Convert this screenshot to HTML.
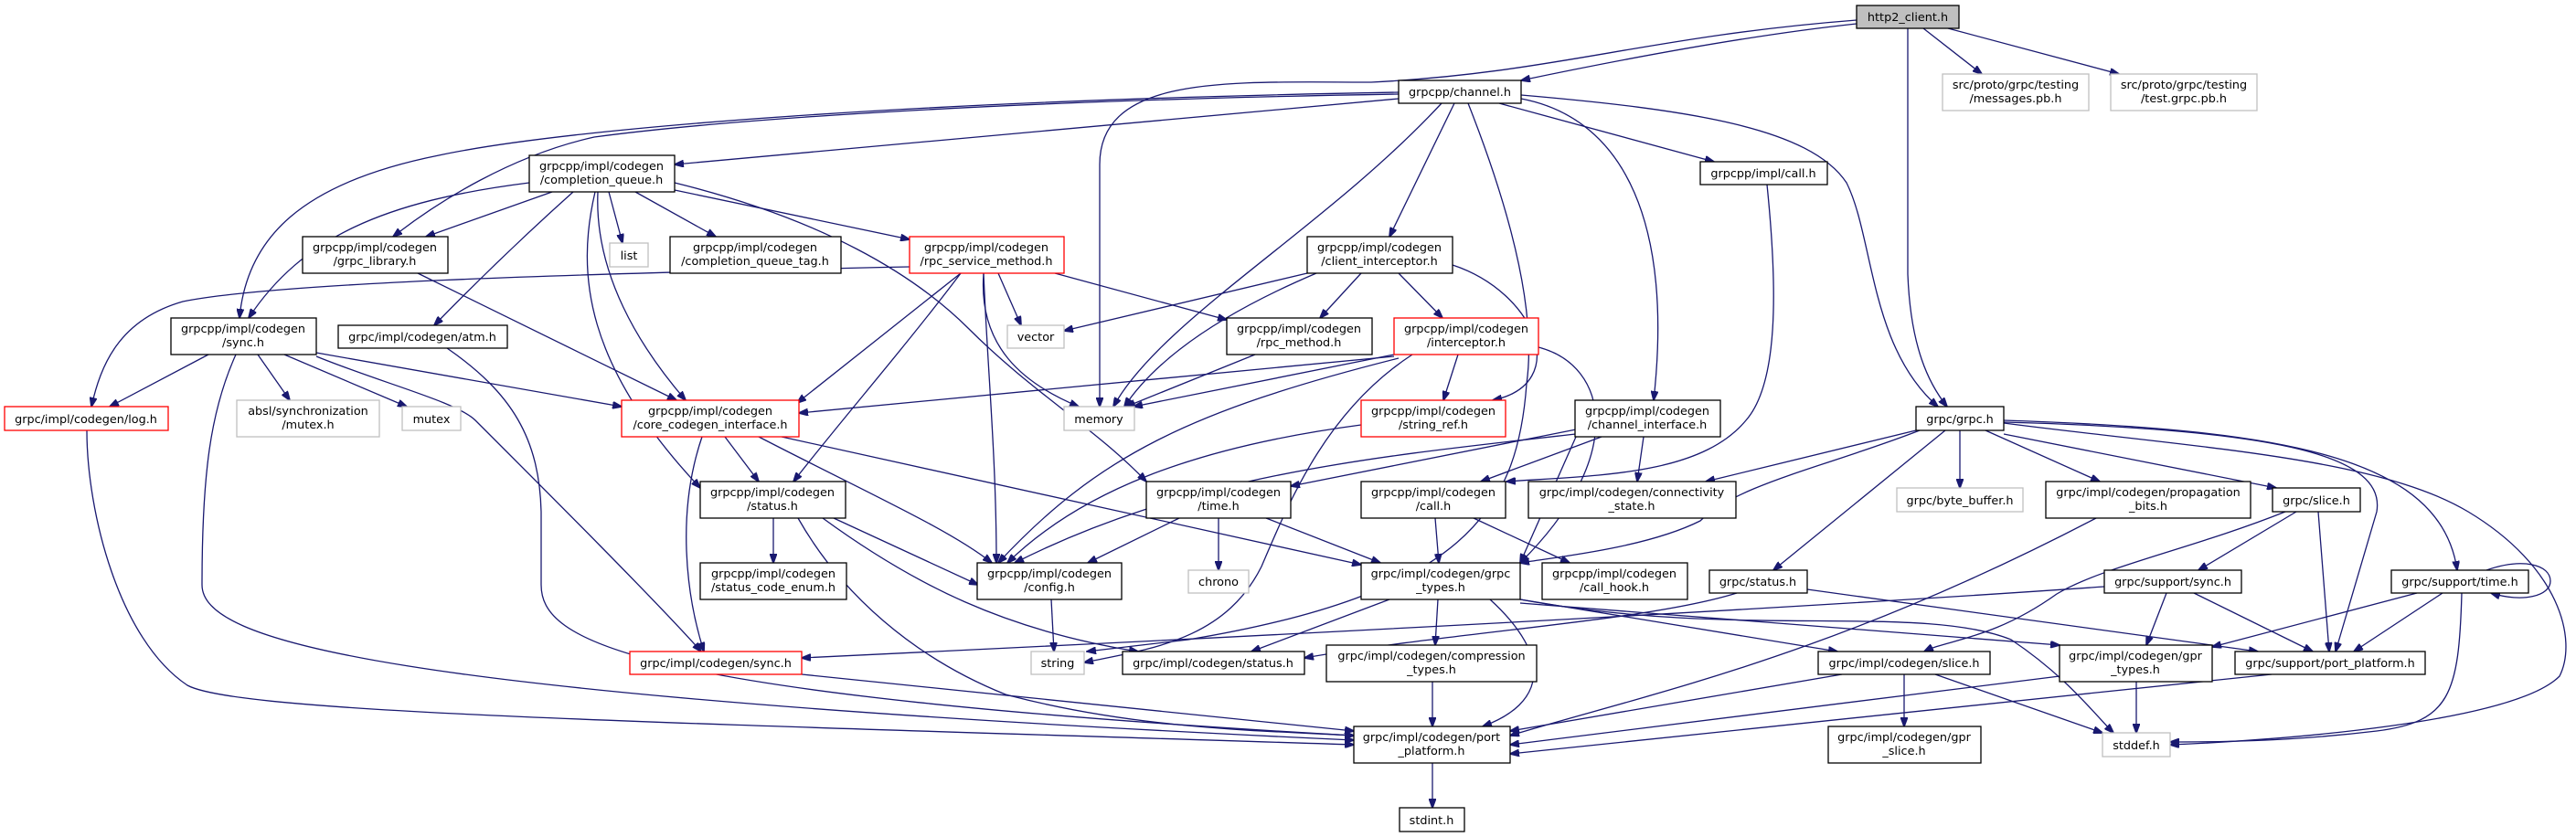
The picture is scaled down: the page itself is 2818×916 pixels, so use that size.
<!DOCTYPE html>
<html><head><meta charset="utf-8"><style>
html,body{margin:0;padding:0;background:#fff}
svg{display:block}
text{font-family:"DejaVu Sans","Liberation Sans",sans-serif;font-size:12.8px;fill:#000;text-anchor:middle}
.e{fill:none;stroke:#191970;stroke-width:1.3}
.n{fill:#fff;stroke:#000;stroke-width:1.3}
.r{fill:#fff;stroke:#ff0000;stroke-width:1.3}
.g{fill:#fff;stroke:#bfbfbf;stroke-width:1.3}
</style></head><body>
<svg width="2818" height="916" viewBox="0 0 2818 916" xmlns="http://www.w3.org/2000/svg">
<defs><marker id="a" markerWidth="11" markerHeight="8" refX="10" refY="4" orient="auto" markerUnits="userSpaceOnUse"><path d="M0,0 L11,4 L0,8 z" fill="#191970" stroke="#191970"/></marker></defs>
<g class="e" marker-end="url(#a)">
<!-- http2_client -->
<path d="M2031,26 C1900,40 1750,70 1664,88"/>
<path d="M2031,22 C1800,40 1700,80 1500,90 C1350,90 1203,80 1203,180 L1203,445"/>
<path d="M2087,31 L2087,300 C2090,380 2110,420 2130,445"/>
<path d="M2104,31 L2168,81"/>
<path d="M2131,31 L2318,81"/>
<!-- channel.h -->
<path d="M1530,108 L738,180"/>
<path d="M1530,103 C1100,110 800,130 650,150 C560,170 480,220 430,259"/>
<path d="M1530,101 C1000,110 620,140 480,170 C330,200 270,260 262,348"/>
<path d="M1577,113 C1450,250 1270,350 1218,445"/>
<path d="M1591,113 L1520,259"/>
<path d="M1606,113 C1660,250 1680,350 1670,420 C1660,560 1600,650 1300,700 L1189,713"/>
<path d="M1640,113 L1875,177"/>
<path d="M1664,108 C1780,130 1830,250 1809,438"/>
<path d="M1664,104 C1850,120 1980,140 2020,200 C2050,260 2045,380 2120,445"/>
<!-- completion_queue -->
<path d="M604,210 L466,259"/>
<path d="M579,200 C420,220 330,260 272,348"/>
<path d="M627,210 C560,270 510,320 475,356"/>
<path d="M666,210 L681,266"/>
<path d="M695,210 L783,259"/>
<path d="M654,210 C650,300 700,380 750,438"/>
<path d="M651,210 C630,300 640,400 766,534"/>
<path d="M738,208 L995,262"/>
<path d="M738,200 C900,240 1000,300 1060,360 C1130,430 1200,470 1254,527"/>
<!-- rpc_service_method -->
<path d="M995,292 C600,300 300,310 200,330 C130,350 110,400 100,445"/>
<path d="M1051,299 L872,441"/>
<path d="M1092,299 L1117,356"/>
<path d="M1076,299 C1070,380 1120,420 1180,445"/>
<path d="M1076,299 C1080,400 1090,500 1090,616"/>
<path d="M1154,299 L1342,350"/>
<path d="M1051,299 C990,380 920,460 868,527"/>
<!-- grpc_library -->
<path d="M457,299 L740,438"/>
<!-- sync.h grpcpp -->
<path d="M228,388 L120,445"/>
<path d="M282,388 L317,438"/>
<path d="M311,388 L445,445"/>
<path d="M346,386 L680,445"/>
<path d="M346,390 C420,420 500,440 520,460 C600,540 720,660 767,713"/>
<path d="M258,388 C230,450 221,520 221,640 C221,700 400,760 1481,810"/>
<!-- atm -->
<path d="M489,381 C560,430 590,480 592,560 L592,640 C592,700 680,760 1481,805"/>
<!-- log -->
<path d="M95,471 C95,560 130,700 205,750 C260,780 700,790 1481,815"/>
<!-- core_codegen_interface -->
<path d="M793,478 L830,527"/>
<path d="M830,478 C950,540 1040,580 1085,616"/>
<path d="M855,478 L1489,618"/>
<path d="M768,478 C740,560 750,650 770,713"/>
<!-- status.h grpcpp -->
<path d="M846,567 L846,616"/>
<path d="M912,567 L1070,640"/>
<path d="M900,567 C1000,640 1100,690 1245,713"/>
<path d="M873,567 C920,650 1000,720 1100,760 C1250,800 1400,800 1481,805"/>
<!-- grpc sync.h -->
<path d="M877,738 L1481,800"/>
<!-- client_interceptor -->
<path d="M1430,299 L1164,362"/>
<path d="M1440,299 C1320,350 1260,400 1230,445"/>
<path d="M1489,299 L1444,348"/>
<path d="M1530,299 L1578,348"/>
<path d="M1589,290 C1680,320 1720,420 1633,438"/>
<!-- rpc_method -->
<path d="M1373,388 L1232,445"/>
<!-- interceptor -->
<path d="M1525,388 L1240,445"/>
<path d="M1525,390 L874,452"/>
<path d="M1595,388 L1579,438"/>
<path d="M1530,392 C1300,450 1200,500 1092,616"/>
<path d="M1683,380 C1760,400 1780,500 1663,616"/>
<path d="M1545,388 C1450,450 1410,550 1380,620 C1340,700 1260,710 1186,725"/>
<!-- string_ref -->
<path d="M1489,465 C1300,490 1180,540 1102,616"/>
<!-- channel_interface -->
<path d="M1724,470 L1412,532"/>
<path d="M1752,478 L1620,527"/>
<path d="M1798,478 L1791,527"/>
<path d="M1724,478 L1663,616"/>
<path d="M1724,475 C1500,500 1300,520 1110,616"/>
<!-- grpcpp call.h -->
<path d="M1933,202 C1945,320 1945,420 1910,460 C1860,520 1750,520 1648,527"/>
<!-- time.h -->
<path d="M1290,567 L1190,616"/>
<path d="M1333,567 L1333,624"/>
<path d="M1385,567 L1510,616"/>
<!-- codegen call.h -->
<path d="M1570,567 L1574,616"/>
<path d="M1612,567 L1717,616"/>
<!-- config -->
<path d="M1150,656 L1153,713"/>
<!-- grpc_types -->
<path d="M1520,656 L1369,713"/>
<path d="M1573,656 L1570,706"/>
<path d="M1630,656 C1700,720 1690,770 1622,795"/>
<path d="M1663,656 L2010,713"/>
<path d="M1663,660 L2253,706"/>
<path d="M1663,656 C1900,700 2100,660 2200,700 C2260,740 2290,780 2312,802"/>
<!-- compression, port -->
<path d="M1567,746 L1567,795"/>
<path d="M1567,835 L1567,884"/>
<!-- grpc.h -->
<path d="M2096,471 L1866,527"/>
<path d="M2100,471 C2000,510 1900,530 1860,570 C1800,600 1700,610 1663,616"/>
<path d="M2128,471 L1940,624"/>
<path d="M2144,471 L2144,534"/>
<path d="M2172,471 L2297,527"/>
<path d="M2192,475 L2490,534"/>
<path d="M2192,462 C2500,470 2610,500 2600,560 L2555,713"/>
<path d="M2192,460 C2500,470 2670,500 2688,624"/>
<path d="M2192,463 C2400,490 2600,500 2700,560 C2800,620 2820,700 2800,740 C2750,790 2500,810 2374,815"/>
<!-- propagation -->
<path d="M2293,567 C2000,720 1800,760 1652,805"/>
<!-- slice.h -->
<path d="M2500,560 C2400,600 2300,620 2250,650 C2180,700 2130,700 2105,713"/>
<path d="M2512,560 L2405,624"/>
<path d="M2536,560 L2548,713"/>
<!-- grpc/status.h -->
<path d="M1977,645 L2470,713"/>
<path d="M1900,649 C1800,680 1600,690 1427,720"/>
<!-- support/sync -->
<path d="M2370,649 L2348,706"/>
<path d="M2400,649 L2530,713"/>
<path d="M2302,642 C1900,670 1300,700 877,720"/>
<!-- support/time -->
<path d="M2644,649 L2420,708"/>
<path d="M2672,649 L2575,713"/>
<path d="M2693,649 C2690,760 2680,790 2600,800 C2500,812 2420,812 2374,812"/>
<path d="M2720,624 C2760,610 2790,618 2790,636 C2790,652 2760,660 2725,649"/>
<!-- impl slice -->
<path d="M2015,738 L1652,800"/>
<path d="M2083,738 L2083,795"/>
<path d="M2117,738 L2300,802"/>
<!-- gpr_types -->
<path d="M2337,746 L2337,802"/>
<path d="M2253,740 L1652,815"/>
<!-- support port platform -->
<path d="M2485,738 L1652,825"/>
</g>
<!-- nodes -->
<rect x="2031" y="6" width="112" height="25" fill="#bfbfbf" stroke="#000" stroke-width="1.3"/><text x="2087" y="23">http2_client.h</text>
<rect class="n" x="1530" y="88" width="134" height="25"/><text x="1597" y="105">grpcpp/channel.h</text>
<rect class="g" x="2125" y="81" width="160" height="40"/><text x="2205" y="97">src/proto/grpc/testing</text><text x="2205" y="112">/messages.pb.h</text>
<rect class="g" x="2309" y="81" width="160" height="40"/><text x="2389" y="97">src/proto/grpc/testing</text><text x="2389" y="112">/test.grpc.pb.h</text>
<rect class="n" x="579" y="170" width="159" height="40"/><text x="658" y="186">grpcpp/impl/codegen</text><text x="658" y="201">/completion_queue.h</text>
<rect class="n" x="1860" y="177" width="139" height="25"/><text x="1929" y="194">grpcpp/impl/call.h</text>
<rect class="n" x="331" y="259" width="159" height="40"/><text x="410" y="275">grpcpp/impl/codegen</text><text x="410" y="290">/grpc_library.h</text>
<rect class="g" x="667" y="266" width="42" height="26"/><text x="688" y="284">list</text>
<rect class="n" x="733" y="259" width="187" height="40"/><text x="826" y="275">grpcpp/impl/codegen</text><text x="826" y="290">/completion_queue_tag.h</text>
<rect class="r" x="995" y="259" width="169" height="40"/><text x="1079" y="275">grpcpp/impl/codegen</text><text x="1079" y="290">/rpc_service_method.h</text>
<rect class="n" x="1430" y="259" width="159" height="40"/><text x="1509" y="275">grpcpp/impl/codegen</text><text x="1509" y="290">/client_interceptor.h</text>
<rect class="n" x="187" y="348" width="159" height="40"/><text x="266" y="364">grpcpp/impl/codegen</text><text x="266" y="379">/sync.h</text>
<rect class="n" x="370" y="356" width="185" height="25"/><text x="462" y="373">grpc/impl/codegen/atm.h</text>
<rect class="g" x="1102" y="356" width="62" height="25"/><text x="1133" y="373">vector</text>
<rect class="n" x="1342" y="348" width="159" height="40"/><text x="1421" y="364">grpcpp/impl/codegen</text><text x="1421" y="379">/rpc_method.h</text>
<rect class="r" x="1525" y="348" width="158" height="40"/><text x="1604" y="364">grpcpp/impl/codegen</text><text x="1604" y="379">/interceptor.h</text>
<rect class="r" x="5" y="445" width="179" height="26"/><text x="94" y="463">grpc/impl/codegen/log.h</text>
<rect class="g" x="259" y="438" width="156" height="40"/><text x="337" y="454">absl/synchronization</text><text x="337" y="469">/mutex.h</text>
<rect class="g" x="440" y="445" width="64" height="26"/><text x="472" y="463">mutex</text>
<rect class="r" x="680" y="438" width="194" height="40"/><text x="777" y="454">grpcpp/impl/codegen</text><text x="777" y="469">/core_codegen_interface.h</text>
<rect class="g" x="1164" y="445" width="77" height="26"/><text x="1202" y="463">memory</text>
<rect class="r" x="1489" y="438" width="158" height="40"/><text x="1568" y="454">grpcpp/impl/codegen</text><text x="1568" y="469">/string_ref.h</text>
<rect class="n" x="1723" y="438" width="159" height="40"/><text x="1802" y="454">grpcpp/impl/codegen</text><text x="1802" y="469">/channel_interface.h</text>
<rect class="n" x="2096" y="445" width="96" height="26"/><text x="2144" y="463">grpc/grpc.h</text>
<rect class="n" x="766" y="527" width="159" height="40"/><text x="845" y="543">grpcpp/impl/codegen</text><text x="845" y="558">/status.h</text>
<rect class="n" x="1254" y="527" width="158" height="40"/><text x="1333" y="543">grpcpp/impl/codegen</text><text x="1333" y="558">/time.h</text>
<rect class="n" x="1489" y="527" width="158" height="40"/><text x="1568" y="543">grpcpp/impl/codegen</text><text x="1568" y="558">/call.h</text>
<rect class="n" x="1672" y="527" width="227" height="40"/><text x="1785" y="543">grpc/impl/codegen/connectivity</text><text x="1785" y="558">_state.h</text>
<rect class="g" x="2075" y="534" width="138" height="26"/><text x="2144" y="552">grpc/byte_buffer.h</text>
<rect class="n" x="2238" y="527" width="224" height="40"/><text x="2350" y="543">grpc/impl/codegen/propagation</text><text x="2350" y="558">_bits.h</text>
<rect class="n" x="2486" y="534" width="96" height="26"/><text x="2534" y="552">grpc/slice.h</text>
<rect class="n" x="766" y="616" width="160" height="40"/><text x="846" y="632">grpcpp/impl/codegen</text><text x="846" y="647">/status_code_enum.h</text>
<rect class="n" x="1069" y="616" width="158" height="40"/><text x="1148" y="632">grpcpp/impl/codegen</text><text x="1148" y="647">/config.h</text>
<rect class="g" x="1300" y="624" width="66" height="25"/><text x="1333" y="641">chrono</text>
<rect class="n" x="1489" y="616" width="174" height="40"/><text x="1576" y="632">grpc/impl/codegen/grpc</text><text x="1576" y="647">_types.h</text>
<rect class="n" x="1687" y="616" width="159" height="40"/><text x="1766" y="632">grpcpp/impl/codegen</text><text x="1766" y="647">/call_hook.h</text>
<rect class="n" x="1870" y="624" width="107" height="25"/><text x="1923" y="641">grpc/status.h</text>
<rect class="n" x="2302" y="624" width="150" height="25"/><text x="2377" y="641">grpc/support/sync.h</text>
<rect class="n" x="2616" y="624" width="150" height="25"/><text x="2691" y="641">grpc/support/time.h</text>
<rect class="r" x="689" y="713" width="188" height="25"/><text x="783" y="730">grpc/impl/codegen/sync.h</text>
<rect class="g" x="1128" y="713" width="58" height="25"/><text x="1157" y="730">string</text>
<rect class="n" x="1228" y="713" width="199" height="25"/><text x="1327" y="730">grpc/impl/codegen/status.h</text>
<rect class="n" x="1451" y="706" width="230" height="40"/><text x="1566" y="722">grpc/impl/codegen/compression</text><text x="1566" y="737">_types.h</text>
<rect class="n" x="1989" y="713" width="188" height="25"/><text x="2083" y="730">grpc/impl/codegen/slice.h</text>
<rect class="n" x="2253" y="706" width="167" height="40"/><text x="2336" y="722">grpc/impl/codegen/gpr</text><text x="2336" y="737">_types.h</text>
<rect class="n" x="2445" y="713" width="208" height="25"/><text x="2549" y="730">grpc/support/port_platform.h</text>
<rect class="n" x="1481" y="795" width="171" height="40"/><text x="1566" y="811">grpc/impl/codegen/port</text><text x="1566" y="826">_platform.h</text>
<rect class="n" x="2000" y="795" width="167" height="40"/><text x="2083" y="811">grpc/impl/codegen/gpr</text><text x="2083" y="826">_slice.h</text>
<rect class="g" x="2300" y="802" width="74" height="26"/><text x="2337" y="820">stddef.h</text>
<rect class="n" x="1531" y="884" width="71" height="26"/><text x="1566" y="902">stdint.h</text>
</svg>
</body></html>
